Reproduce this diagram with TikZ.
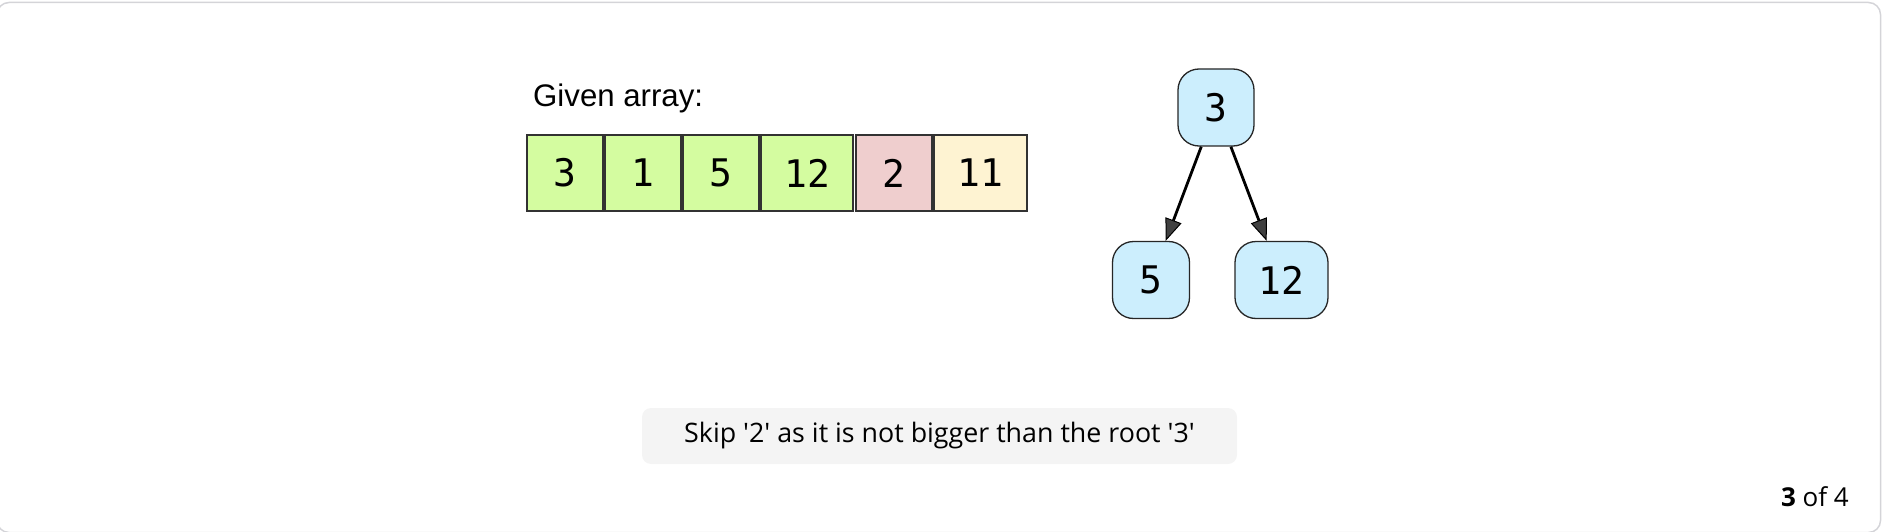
\documentclass[tikz,border=0pt]{standalone}
\usepackage{fontspec}
\setmainfont{Liberation Sans}
\newfontfamily\monofnt{DejaVu Sans Mono}
\newfontfamily\capfnt{Open Sans}
\usetikzlibrary{arrows.meta}
\definecolor{cgreen}{RGB}{212,252,160}
\definecolor{cpink}{RGB}{239,206,206}
\definecolor{ccream}{RGB}{254,243,210}
\definecolor{cblue}{RGB}{204,238,253}
\definecolor{cedge}{RGB}{50,50,50}
\definecolor{cframe}{RGB}{212,212,216}
\definecolor{ccap}{RGB}{244,244,244}
\tikzset{
  cell/.style={draw=cedge, line width=1.3pt, minimum height=76pt, inner sep=0pt,
    font=\monofnt\fontsize{38}{42}\selectfont},
  treenode/.style={draw=black!85, line width=1.3pt, fill=cblue, rounded corners=21pt,
    minimum height=77pt, inner sep=0pt, font=\monofnt\fontsize{38}{42}\selectfont},
  edge/.style={line width=2.8pt, -{Triangle[length=22pt,width=17pt,fill=black!75,line width=1pt]}},
}
\begin{document}
\begin{tikzpicture}[x=1pt,y=-1pt]
\useasboundingbox (0,0) rectangle (1882,532);
\draw[cframe, line width=1.5pt, rounded corners=12pt] (-3,2.5) rectangle (1880.5,532.5);
\node[anchor=base west, font=\fontsize{31.2}{38}\selectfont, inner sep=0pt] (title) at (533,107) {Given array:};
\node[cell, fill=cgreen, minimum width=76pt] (a1) at (565,173) {3};
\node[cell, fill=cgreen, minimum width=76pt] (a2) at (643,173) {1};
\node[cell, fill=cgreen, minimum width=76pt] (a3) at (721,173) {5};
\node[cell, fill=cgreen, minimum width=92pt] (a4) at (807,173) {12};
\node[cell, fill=cpink, minimum width=76pt] (a5) at (894,173) {2};
\node[cell, fill=ccream, minimum width=93pt] (a6) at (980.5,173) {11};
\node[treenode, minimum width=76pt] (r) at (1216,107.5) {3};
\node[treenode, minimum width=77pt] (c5) at (1151,280) {5};
\node[treenode, minimum width=93pt] (c12) at (1281.5,280) {12};
\draw[edge] (r) -- (c5);
\draw[edge] (r) -- (c12);
\fill[ccap, rounded corners=9pt] (642,408) rectangle (1237,464);
\node[font=\capfnt\fontsize{26.8}{32}\selectfont, inner sep=0pt] (cap) at (939.5,436) {Skip '2' as it is not bigger than the root '3'};
\node[anchor=base east, font=\capfnt\fontsize{26}{30}\selectfont, inner sep=0pt] (pg) at (1849,506) {\textbf{3} of 4};
\end{tikzpicture}
\end{document}
